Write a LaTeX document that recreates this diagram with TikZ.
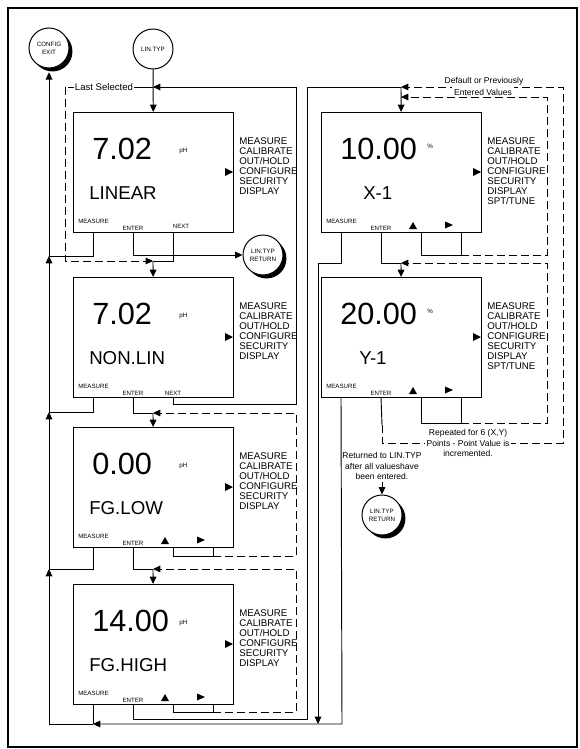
\documentclass[tikz,border=0pt]{standalone}
\usepackage{fontspec}
\setmainfont{Liberation Sans}
\usetikzlibrary{arrows.meta,shadows}

\def\menushort{MEASURE\\CALIBRATE\\OUT/HOLD\\CONFIGURE\\SECURITY\\DISPLAY}
\def\menulong{MEASURE\\CALIBRATE\\OUT/HOLD\\CONFIGURE\\SECURITY\\DISPLAY\\SPT/TUNE}

\begin{document}
\begin{tikzpicture}[x=0.75pt,y=-0.75pt,
  lcd/.style={draw,line width=0.75pt,minimum width=120pt,minimum height=90pt,inner sep=0pt},
  wire/.style={line width=0.7pt},
  flow/.style={wire,-{Triangle[length=5.5pt,width=5pt]}},
  back/.style={wire,dash pattern=on 6pt off 3pt},
  backflow/.style={back,-{Triangle[length=5.5pt,width=5pt]}},
  keylab/.style={font=\fontsize{4.6}{5}\selectfont,inner sep=0pt},
  menulab/.style={font=\fontsize{7.3}{7.5}\selectfont,align=left,inner sep=0pt,anchor=north west},
  bigval/.style={font=\fontsize{23}{23}\selectfont,inner sep=0pt},
  wordlab/.style={font=\fontsize{14}{14}\selectfont,inner sep=0pt},
  unitlab/.style={font=\fontsize{4.7}{5}\selectfont,inner sep=0pt},
  menunode/.style={circle,draw,line width=0.75pt,fill=white,minimum size=30pt,inner sep=0pt,align=center,font=\fontsize{4.7}{6}\selectfont},
  exitnode/.style={menunode,general shadow={fill=black,shadow xshift=2.6pt,shadow yshift=-2.6pt}},
  note/.style={font=\fontsize{6.4}{8.2}\selectfont,align=center,inner sep=1.5pt,fill=white}]

\useasboundingbox (0,0) rectangle (579,749);
\draw[line width=2.2pt] (8,8) rectangle (577,747);

% display panel: name, left, top, value, unit, word, word offset, menu, unit offset
\newcommand{\lcdpanel}[9]{%
  \node[lcd,anchor=north west] (#1) at (#2,#3) {};
  \node[bigval,anchor=west] (#1val) at ({#2+19},{#3+37}) {#4};
  \node[unitlab,anchor=west] (#1unit) at ({#2+106},{#3+#9}) {#5};
  \node[wordlab,anchor=west] (#1word) at ({#2+#7},{#3+81}) {#6};
  \node[menulab] (#1menu) at ({#2+166},{#3+25}) {#8};
  \fill ({#2+152},{#3+56}) -- ++(8,4) -- ++(-8,4) -- cycle;
  \node[keylab,anchor=west] (#1mkey) at ({#2+5},{#3+109}) {MEASURE};
  \node[keylab] (#1ekey) at ({#2+60},{#3+116}) {ENTER};
  \coordinate (#1m) at ({#2+20},{#3+120});
  \coordinate (#1e) at ({#2+60},{#3+120});
  \coordinate (#1u) at ({#2+100},{#3+120});
  \coordinate (#1r) at ({#2+140},{#3+120});
}
\newcommand{\nextkey}[4]{\node[keylab] (#1nkey) at ({#2+#4},{#3+114}) {NEXT};}
\newcommand{\arrowkeys}[2]{%
  \fill ({#1+88},{#2+117}) -- ++(4,-7) -- ++(4,7) -- cycle;
  \fill ({#1+124},{#2+109.5}) -- ++(8,3.5) -- ++(-8,3.5) -- cycle;
}

\lcdpanel{d1}{73}{112}{7.02}{pH}{LINEAR}{16}{\menushort}{39}
\lcdpanel{d2}{73}{277}{7.02}{pH}{NON.LIN}{16}{\menushort}{39}
\lcdpanel{d3}{73}{427}{0.00}{pH}{FG.LOW}{16}{\menushort}{39}
\lcdpanel{d4}{73}{584}{14.00}{pH}{FG.HIGH}{16}{\menushort}{39}
\lcdpanel{x1}{321}{112}{10.00}{\%}{X-1}{42}{\menulong}{34}
\lcdpanel{y1}{321}{277}{20.00}{\%}{Y-1}{38}{\menulong}{34}
\nextkey{d1}{73}{112}{108}
\nextkey{d2}{73}{279}{100}
\arrowkeys{73}{427}
\arrowkeys{73}{584}
\arrowkeys{321}{112}
\arrowkeys{321}{277}

\node[exitnode] (cfgexit) at (49,48) {CONFIG\\EXIT};
\node[menunode] (lintyp) at (153,49) {LIN.TYP};
\node[exitnode] (ret1) at (263,255) {LIN.TYP\\RETURN};
\node[exitnode] (ret2) at (382,515) {LIN.TYP\\RETURN};

% entry and last selected
\coordinate (topJ) at (153,87);
\coordinate (j1) at (153,261);
\draw[flow] (lintyp) -- (d1);
\draw[flow] (d2u) |- (296,404) -- (296,87) -- (topJ);
\draw[wire] (topJ) -- (68,87);
\node[note,font=\fontsize{7.2}{8}\selectfont,inner sep=1pt] (lastsel) at (104,87) {Last Selected};
\draw[backflow] (65,87) -- (65,261) -- (j1);
\draw[wire] (d1u) |- (j1);
\draw[flow] (j1) -- (d2);
\draw[flow] (d1e) |- (ret1);

% measure keys to config exit
\coordinate (r1) at (49,256);
\coordinate (r2) at (49,412);
\coordinate (r3) at (49,569);
\coordinate (r4) at (49,724);
\draw[wire] (d1m) |- (r1);
\draw[wire] (d2m) |- (r2);
\draw[wire] (d3m) |- (r3);
\draw[flow] (r4) -- (r3);
\draw[flow] (r3) -- (r2);
\draw[flow] (r2) -- (r1);
\draw[flow] (r1) -- ([yshift=-2.8pt]cfgexit.south);

% fg.low
\coordinate (j2) at (153,413);
\draw[wire] (d2e) |- (j2);
\draw[flow] (j2) -- (d3);
\draw[wire] (d3u) |- (213,556) -- (d3r);
\draw[backflow] (213,556) -- (296,556) -- (296,413) -- (j2);

% fg.high
\coordinate (j3) at (153,569);
\draw[wire] (d3e) |- (j3);
\draw[flow] (j3) -- (d4);
\draw[wire] (d4u) |- (213,712) -- (d4r);
\draw[backflow] (213,712) -- (296,712) -- (296,569) -- (j3);

% bottom rail
\coordinate (b1) at (93,724);
\draw[wire] (d4m) -- (b1);
\draw[wire] (b1) -- (r4);
\draw[flow] (y1m) -- (342,724) -- (b1);
\draw[flow] (x1m) |- (318,263) -- (318,724);

% X-1
\coordinate (j4) at (401,87);
\coordinate (j5) at (401,97);
\draw[wire] (d4e) |- (307,719) -- (307,87) -- (j4);
\draw[flow] (j4) -- (x1);
\draw[wire] (x1u) |- (461,255) -- (x1r);
\draw[backflow] (461,255) -- (547,255) -- (547,97) -- (j5);

% Y-1
\coordinate (j6) at (401,263);
\draw[wire] (x1e) |- (j6);
\draw[flow] (j6) -- (y1);
\draw[wire] (y1u) |- (461,423) -- (y1r);
\draw[backflow] (461,423) -- (547,423) -- (547,263) -- (j6);
\draw[wire] (y1e) -- (382,425);
\draw[backflow] (382,425) -- (382,443) -- (563,443) -- (563,87) -- (j4);

\node[note] (defnote) at (484,81) {Default or Previously};
\node[note] (entnote) at (483,92) {Entered Values};
\node[note] (repnote) at (468,443) {Repeated for 6 (X,Y)\\Points - Point Value is\\incremented.};
\node[note,fill=none] (retnote) at (382,466) {Returned to LIN.TYP\\after all valueshave\\been entered.};
\draw[flow] (retnote) -- (ret2);
\end{tikzpicture}
\end{document}
